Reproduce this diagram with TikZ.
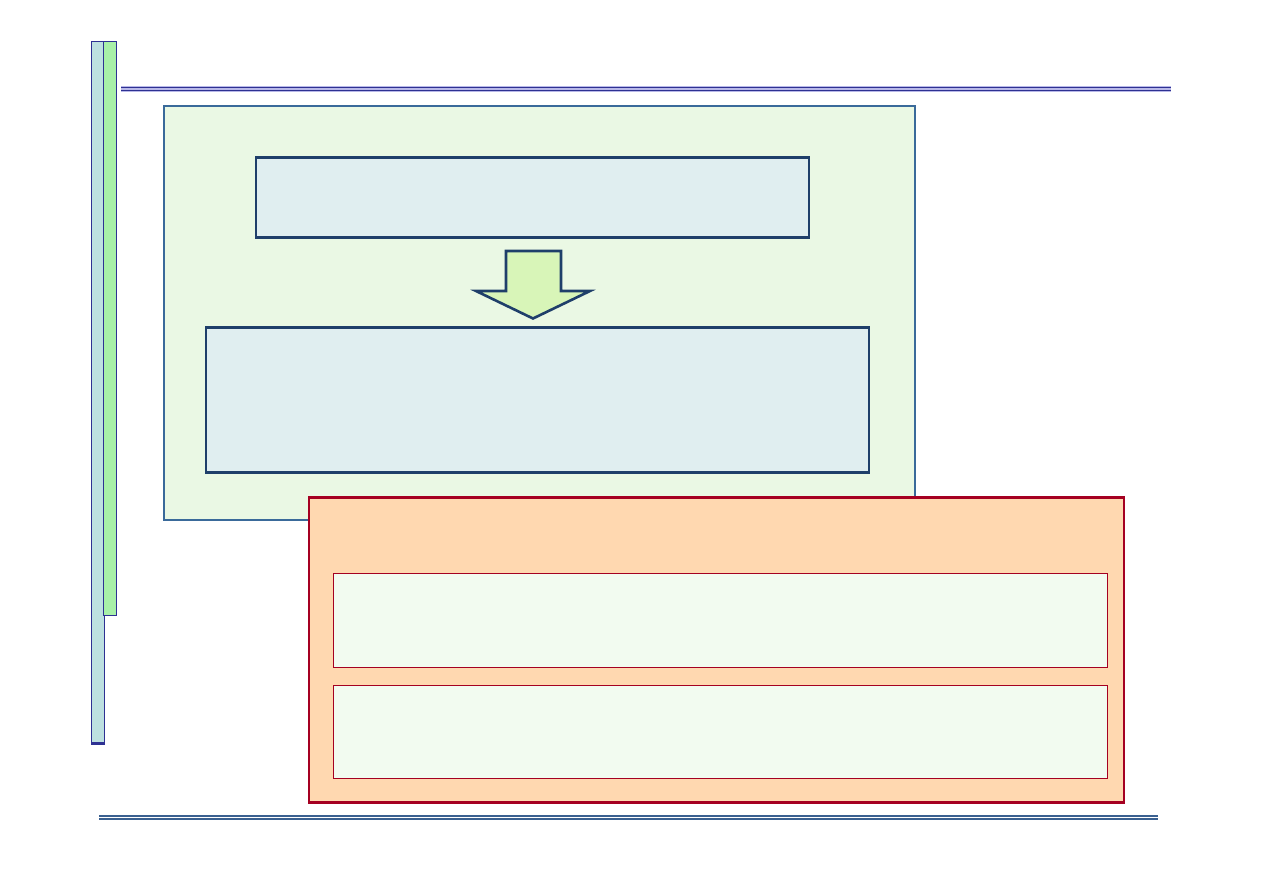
\documentclass[tikz,border=0pt]{standalone}
\usetikzlibrary{calc}
\definecolor{barblue}{HTML}{BDE0E0}
\definecolor{bargreen}{HTML}{A8F0A8}
\definecolor{navy}{HTML}{2E3192}
\definecolor{lav}{HTML}{B8B8E8}
\definecolor{steel}{HTML}{3A6A9A}
\definecolor{panelgreen}{HTML}{EAF8E4}
\definecolor{boxblue}{HTML}{E0EEF0}
\definecolor{darkblue}{HTML}{1F3F6A}
\definecolor{arrowgreen}{HTML}{D8F5B8}
\definecolor{orangefill}{HTML}{FFD8B0}
\definecolor{crimson}{HTML}{A50021}
\definecolor{palegreen}{HTML}{F2FBF0}
\definecolor{botline}{HTML}{3A6090}
\tikzset{
  every node/.style={inner sep=0pt, outer sep=0pt, anchor=north west},
  bluebox/.style={fill=boxblue, draw=darkblue, line width=2.6pt},
  innerbox/.style={fill=palegreen, draw=crimson, line width=0.8pt},
}
\begin{document}
\begin{tikzpicture}[x=1pt,y=-1pt]
\useasboundingbox (0,0) rectangle (1263,893);
% left bars
\path[fill=barblue, draw=navy, line width=1pt] (91.5,41.5) rectangle (104,744);
\draw[navy, line width=2.5pt] (91,743.5) -- (105,743.5);
\path[fill=bargreen, draw=navy, line width=1pt] (103.5,41.5) rectangle (116.5,615.5);
% top double line
\draw[lav, line width=2.5pt] (121,87.5) -- (1171,87.5);
\draw[lav, line width=2.5pt] (121,90.5) -- (1171,90.5);
\draw[navy, line width=1.2pt] (121,87.5) -- (1171,87.5);
\draw[navy, line width=1.2pt] (121,90.5) -- (1171,90.5);
% bottom double line
\draw[botline, line width=1.6pt] (99,815.8) -- (1158,815.8);
\draw[botline, line width=1.6pt] (99,819.2) -- (1158,819.2);
% green panel
\node[draw=steel, fill=panelgreen, line width=2pt, minimum width=751pt, minimum height=413pt] (panel) at (163.5,106.5) {};
% box 1
\node[bluebox, minimum width=553pt, minimum height=80pt] (box1) at (256,157.5) {};
% box 2
\node[bluebox, minimum width=663pt, minimum height=145pt] (box2) at (206,327.5) {};
% arrow
\draw[fill=arrowgreen, draw=darkblue, line width=2.6pt, line join=miter]
  (506,251) -- (561,251) -- (561,291) -- (590,291) -- (533,318.5) -- (476,291) -- (506,291) -- cycle;
% orange panel
\node[draw=crimson, fill=orangefill, line width=2.8pt, minimum width=815pt, minimum height=305pt] (orange) at (309,497.5) {};
% inner boxes
\node[innerbox, minimum width=774pt, minimum height=94pt] (inA) at (333.5,573.5) {};
\node[innerbox, minimum width=774pt, minimum height=93pt] (inB) at (333.5,685.5) {};
\end{tikzpicture}
\end{document}
